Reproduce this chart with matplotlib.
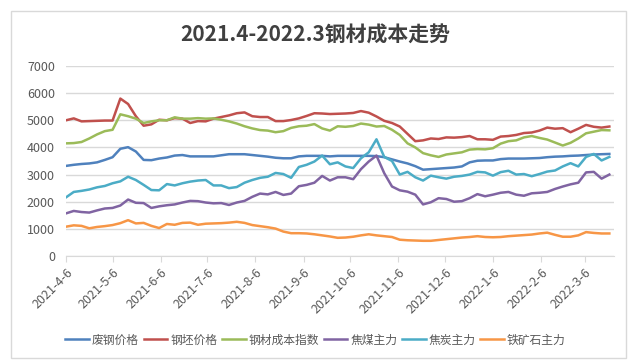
import matplotlib.pyplot as plt
import pandas as pd
from matplotlib.patches import Rectangle

plt.rcParams['font.family'] = ['Noto Sans CJK SC', 'DejaVu Sans']

# sampled every 5 calendar days from 2021-04-06
dates = pd.date_range('2021-04-06', periods=71, freq='5D')

scrap = [3320, 3360, 3390, 3410, 3450, 3540, 3640, 3950, 4010, 3850, 3540, 3530, 3590, 3630, 3700, 3720, 3670, 3670,
         3670, 3670, 3710, 3750, 3750, 3750, 3720, 3690, 3660, 3620, 3600, 3600, 3670, 3690, 3690, 3690, 3670, 3690,
         3690, 3690, 3690, 3690, 3680, 3640, 3560, 3480, 3410, 3310, 3180, 3200, 3220, 3240, 3260, 3300, 3450, 3510,
         3520, 3520, 3570, 3590, 3590, 3590, 3600, 3610, 3640, 3660, 3670, 3690, 3700, 3720, 3740, 3750, 3760]
billet = [5000, 5070, 4960, 4970, 4980, 4990, 4990, 5800, 5600, 5150, 4800, 4850, 5020, 5000, 5080, 5060, 4900, 4970,
          4960, 5060, 5120, 5180, 5260, 5290, 5150, 5120, 5120, 4970, 4970, 5010, 5070, 5160, 5260, 5250, 5230, 5240,
          5250, 5270, 5340, 5280, 5140, 4980, 4900, 4770, 4500, 4230, 4260, 4330, 4310, 4370, 4360, 4380, 4420, 4300,
          4300, 4280, 4400, 4420, 4460, 4530, 4550, 4620, 4730, 4690, 4710, 4560, 4690, 4830, 4760, 4730, 4770]
cost_index = [4150, 4160, 4200, 4330, 4480, 4600, 4650, 5220, 5150, 5060, 4900, 4960, 5000, 5000, 5110, 5060, 5060, 5080,
              5060, 5070, 5020, 4960, 4880, 4780, 4700, 4640, 4620, 4560, 4600, 4720, 4780, 4800, 4860, 4700, 4620, 4780,
              4760, 4790, 4880, 4840, 4770, 4790, 4650, 4460, 4150, 4000, 3790, 3710, 3650, 3740, 3780, 3820, 3920, 3940,
              3930, 3970, 4140, 4230, 4260, 4370, 4420, 4350, 4290, 4180, 4070, 4170, 4330, 4520, 4580, 4640, 4630]
coking_coal = [1570, 1660, 1620, 1600, 1680, 1750, 1770, 1860, 2080, 1960, 1950, 1770, 1830, 1870, 1900, 1970, 2030, 2020,
               1970, 1940, 1950, 1880, 1970, 2030, 2180, 2300, 2270, 2360, 2250, 2300, 2570, 2620, 2700, 2950, 2780, 2900,
               2900, 2830, 3200, 3480, 3700, 3050, 2560, 2420, 2370, 2260, 1900, 1980, 2130, 2100, 2000, 2020, 2130, 2280,
               2200, 2260, 2330, 2360, 2260, 2220, 2310, 2330, 2360, 2470, 2560, 2640, 2700, 3080, 3100, 2850, 3000]
coke = [2160, 2360, 2400, 2450, 2530, 2580, 2680, 2750, 2920, 2800, 2620, 2430, 2420, 2650, 2600, 2680, 2740, 2780,
        2800, 2600, 2600, 2500, 2540, 2700, 2800, 2880, 2920, 3060, 3020, 2880, 3280, 3360, 3480, 3700, 3380, 3450,
        3300, 3240, 3600, 3820, 4300, 3650, 3500, 3000, 3100, 2900, 2780, 2960, 2900, 2850, 2920, 2950, 3000, 3100,
        3080, 2960, 3090, 3140, 3000, 3020, 2940, 3020, 3110, 3150, 3300, 3420, 3300, 3650, 3760, 3520, 3650]
iron_ore = [1080, 1130, 1110, 1020, 1070, 1100, 1140, 1210, 1320, 1200, 1220, 1110, 1030, 1180, 1150, 1220, 1230, 1150,
            1190, 1200, 1210, 1230, 1260, 1220, 1140, 1100, 1060, 1010, 900, 840, 840, 830, 800, 760, 720, 670,
            680, 710, 760, 800, 760, 730, 700, 600, 580, 570, 560, 560, 590, 620, 650, 680, 700, 730,
            700, 690, 700, 730, 750, 770, 790, 830, 860, 780, 710, 710, 760, 880, 850, 830, 830]

series = [('废钢价格', scrap, '#4F81BD'),
          ('钢坯价格', billet, '#C0504D'),
          ('钢材成本指数', cost_index, '#9BBB59'),
          ('焦煤主力', coking_coal, '#8064A2'),
          ('焦炭主力', coke, '#4BACC6'),
          ('铁矿石主力', iron_ore, '#F79646')]

tick_labels = ['2021-4-6', '2021-5-6', '2021-6-6', '2021-7-6', '2021-8-6', '2021-9-6',
               '2021-10-6', '2021-11-6', '2021-12-6', '2022-1-6', '2022-2-6', '2022-3-6']

fig = plt.figure(figsize=(6.31, 3.63), dpi=100)
fig.patches.append(Rectangle((11 / 631, 1 - 358 / 363), 615 / 631, 347 / 363, transform=fig.transFigure,
                             fill=False, edgecolor='#D9D9D9', linewidth=1))
ax = fig.add_axes([66 / 631, 1 - 256 / 363, 548 / 631, 190 / 363])

for name, values, color in series:
    ax.plot(dates, values, color=color, linewidth=1.8, label=name)

ax.set_ylim(0, 7000)
ax.set_yticks(range(0, 7001, 1000))
ax.set_xlim(pd.Timestamp('2021-04-06'), pd.Timestamp('2022-03-25'))
ax.set_xticks([pd.Timestamp(t) for t in tick_labels])
ax.set_xticklabels(tick_labels, rotation=45, ha='right', rotation_mode='anchor')
ax.grid(axis='y', color='#D9D9D9', linewidth=1)
ax.set_axisbelow(True)
for side in ['top', 'right', 'left']:
    ax.spines[side].set_visible(False)
ax.spines['bottom'].set_color('#D9D9D9')
ax.tick_params(axis='y', length=0, pad=8, labelsize=9, labelcolor='#595959')
ax.tick_params(axis='x', length=4, color='#D9D9D9', pad=3, labelsize=9, labelcolor='#595959')

fig.text(0.5, 1 - 35 / 363, '2021.4-2022.3钢材成本走势', ha='center', va='center',
         fontsize=15, fontweight='bold', color='#404040')
fig.legend(loc='center', bbox_to_anchor=(0.5, 1 - 340 / 363), ncol=6, frameon=False,
           fontsize=8.5, handlelength=2.0, handletextpad=0.25, columnspacing=0.4,
           labelcolor='#595959')

fig.savefig('out.png', dpi=100)
